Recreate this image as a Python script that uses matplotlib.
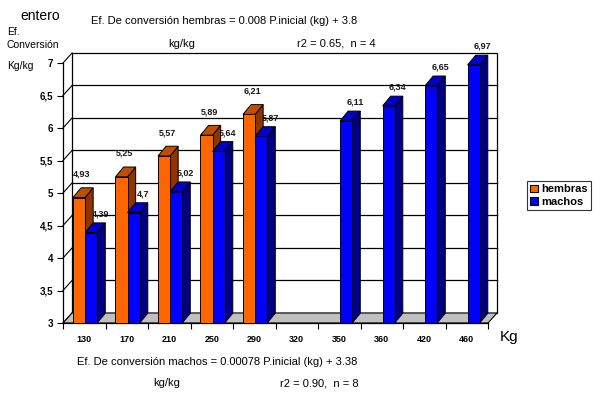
import matplotlib
matplotlib.use('Agg')
import matplotlib.pyplot as plt
from matplotlib.patches import Polygon, Patch

plt.rcParams['font.family'] = ['Liberation Sans', 'DejaVu Sans']

categories = ['130', '170', '210', '250', '290', '320', '350', '360', '420', '460']
hembras = [4.93, 5.25, 5.57, 5.89, 6.21, None, None, None, None, None]
machos = [4.39, 4.7, 5.02, 5.64, 5.87, None, 6.11, 6.34, 6.65, 6.97]
yticks = [3, 3.5, 4, 4.5, 5, 5.5, 6, 6.5, 7]
ytick_labels = ['3', '3,5', '4', '4,5', '5', '5,5', '6', '6,5', '7']

W, H = 603, 393
fig = plt.figure(figsize=(W / 100, H / 100), dpi=100)
fig.patch.set_facecolor('white')
ax = fig.add_axes([63 / W, 1 - 323 / H, 425 / W, 260 / H])
ax.set_xlim(0, len(categories))
ax.set_ylim(3, 7)
ax.patch.set_visible(False)

# depth of wall / bars (in data units)
dx, dy = 0.212, 0.154
bdx, bdy = 0.19, 0.15
n = len(categories)

# back wall
ax.add_patch(Polygon([(dx, 3 + dy), (n + dx, 3 + dy), (n + dx, 7 + dy), (dx, 7 + dy)],
                     closed=True, facecolor='white', edgecolor='black', lw=0.9,
                     clip_on=False, zorder=1))
for v in yticks:
    if 3 < v < 7:
        ax.plot([dx, n + dx], [v + dy, v + dy], color='black', lw=0.9, clip_on=False, zorder=1.2)
    ax.plot([0, dx], [v, v + dy], color='black', lw=0.8, clip_on=False, zorder=1.2)

# floor
ax.add_patch(Polygon([(0, 3), (n, 3), (n + dx, 3 + dy), (dx, 3 + dy)], closed=True,
                     facecolor='#C0C0C0', edgecolor='black', lw=0.8, clip_on=False, zorder=1.5))

def bar3d(x0, x1, v, front, top, side, z):
    ax.add_patch(Polygon([(x1, 3), (x1 + bdx, 3 + bdy), (x1 + bdx, v + bdy), (x1, v)],
                         facecolor=side, edgecolor='black', lw=0.7, clip_on=False, zorder=z))
    ax.add_patch(Polygon([(x0, v), (x1, v), (x1 + bdx, v + bdy), (x0 + bdx, v + bdy)],
                         facecolor=top, edgecolor='black', lw=0.7, clip_on=False, zorder=z))
    ax.add_patch(Polygon([(x0, 3), (x1, 3), (x1, v), (x0, v)],
                         facecolor=front, edgecolor='black', lw=0.7, clip_on=False, zorder=z + 0.1))

def fmt(v):
    return ('%g' % v).replace('.', ',')

z = 4
for i in range(n):
    h = hembras[i]
    m = machos[i]
    o0, o1 = i + 0.235, i + 0.52
    b0, b1 = i + 0.52, i + 0.805
    if h is not None:
        bar3d(o0, o1, h, '#FF6600', '#C04E00', '#8F3300', z)
        ax.text((o0 + o1) / 2 + 0.07, h + 0.36, fmt(h), ha='center', va='center',
                fontsize=6.5, fontweight='bold', color='#1a1a1a', zorder=3, clip_on=False)
    z += 0.3
    if m is not None:
        bar3d(b0, b1, m, '#0000FF', '#0000C8', '#000080', z)
        ax.text((b0 + b1) / 2 + 0.21, m + 0.29, fmt(m), ha='center', va='center',
                fontsize=6.5, fontweight='bold', color='#1a1a1a', zorder=3, clip_on=False)
    z += 0.3

# axes / ticks
for s in ['top', 'right']:
    ax.spines[s].set_visible(False)
ax.spines['left'].set_linewidth(0.9)
ax.spines['bottom'].set_linewidth(0.9)
ax.set_yticks(yticks)
ax.set_yticklabels(ytick_labels, fontsize=7, fontweight='bold')
ax.tick_params(axis='y', direction='out', length=4, width=0.8, pad=3)
ax.set_xticks([i + 0.5 for i in range(n)])
ax.set_xticklabels(categories, fontsize=6.5, fontweight='bold')
ax.set_xticks(list(range(n + 1)), minor=True)
ax.tick_params(axis='x', which='major', length=0, pad=9)
ax.tick_params(axis='x', which='minor', direction='out', length=4, width=0.8)

# texts
def ftext(x, y, s, **kw):
    fig.text(x / W, 1 - y / H, s, va='center', ha='left', **kw)

ftext(20, 16, 'entero', fontsize=10)
ftext(7, 32, 'Ef.', fontsize=7.5)
ftext(7, 45, 'Conversión', fontsize=7.5)
ftext(7, 66, 'Kg/kg', fontsize=7.5)
ftext(91, 21, 'Ef. De conversión hembras = 0.008 P.inicial (kg) + 3.8', fontsize=8)
ftext(168, 44, 'kg/kg', fontsize=8)
ftext(297, 44, 'r2 = 0.65,  n = 4', fontsize=8)
ftext(500, 337, 'Kg', fontsize=11)
ftext(77, 362, 'Ef. De conversión machos = 0.00078 P.inicial (kg) + 3.38', fontsize=8)
ftext(153, 383, 'kg/kg', fontsize=8)
ftext(280, 383, 'r2 = 0.90,  n = 8', fontsize=8)

handles = [Patch(facecolor='#FF6600', edgecolor='black', lw=0.8, label='hembras'),
           Patch(facecolor='#0000FF', edgecolor='black', lw=0.8, label='machos')]
leg = fig.legend(handles=handles, loc='upper left', bbox_to_anchor=(527 / W, 1 - 181 / H),
                 frameon=True, fancybox=False, edgecolor='black', handlelength=0.7,
                 handleheight=0.7, handletextpad=0.3, borderpad=0.3, labelspacing=0.25,
                 borderaxespad=0, prop={'size': 8, 'weight': 'bold'})
leg.get_frame().set_linewidth(0.8)

fig.savefig('out.png', dpi=100, facecolor='white')
